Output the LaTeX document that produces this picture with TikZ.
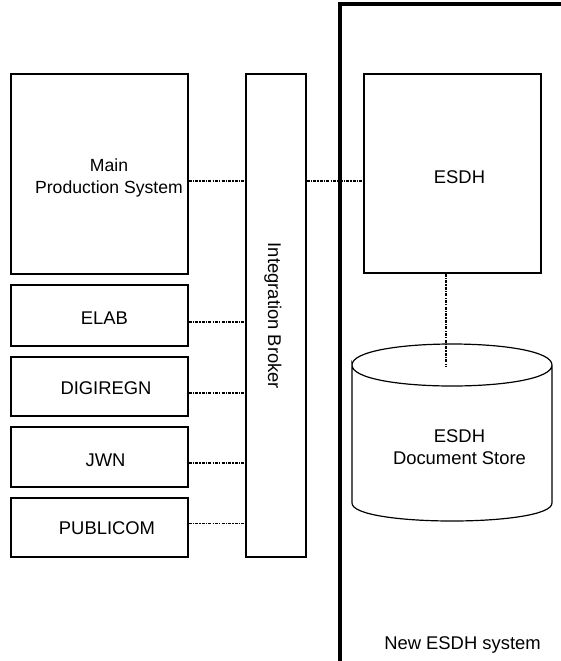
\documentclass[tikz,border=0pt]{standalone}
\usepackage{fontspec}
\setmainfont{Liberation Sans}
\begin{document}
\begin{tikzpicture}[x=0.5pt,y=-0.5pt,
  box/.style={draw, line width=0.6pt, inner sep=0pt},
  conn/.style={line width=0.65pt, dash pattern=on 1.5pt off 0.6pt on 0.6pt off 0.6pt},
  lbl/.style={inner sep=0pt, align=center, font=\fontsize{9.2}{11}\selectfont}]
\useasboundingbox (0,0) rectangle (561,661);
% left systems
\node[box, minimum width=88.5pt, minimum height=100pt] (main) at (99.5,174) {};
\node[lbl, font=\fontsize{8.8}{11}\selectfont] (mainlbl) at (109,177.5) {Main\\Production System};
\node[box, minimum width=88.5pt, minimum height=30.5pt] (elab) at (99.5,315.5) {};
\node[lbl] (elablbl) at (104.5,318) {ELAB};
\node[box, minimum width=88.5pt, minimum height=29.5pt] (digi) at (99.5,386.5) {};
\node[lbl] (digilbl) at (106,388) {DIGIREGN};
\node[box, minimum width=88.5pt, minimum height=30pt] (jwn) at (99.5,457) {};
\node[lbl] (jwnlbl) at (105.5,460) {JWN};
\node[box, minimum width=88.5pt, minimum height=29.5pt] (pub) at (99.5,527.5) {};
\node[lbl] (publbl) at (107,528) {PUBLICOM};
% broker
\node[box, minimum width=30pt, minimum height=241.5pt] (broker) at (276,315.5) {};
\node[lbl, rotate=-90] (brokerlbl) at (273,316) {Integration Broker};
% new system boundary
\draw[line width=2pt] (340,661) -- (340,4) -- (561,4);
\node[lbl] (newsys) at (462.5,645) {New ESDH system};
% ESDH
\node[box, minimum width=88.5pt, minimum height=99.5pt] (esdh) at (452.5,173.5) {};
\node[lbl] (esdhlbl) at (459.5,177) {ESDH};
% cylinder
\draw[line width=0.6pt, fill=white] (352,365) .. controls (352,337) and (552,337) .. (552,365)
  .. controls (552,393) and (352,393) .. (352,365) -- (352,503)
  .. controls (352,527) and (552,527) .. (552,503) -- (552,365);
\coordinate (cyltop) at (446,367);
\node[lbl] (store) at (459.5,447) {ESDH\\Document Store};
% connectors
\draw[conn] ([yshift=-3.5pt]main.east) -- ([yshift=-3.5pt]main.east -| broker.west);
\draw[conn] ([yshift=-3.5pt]main.east -| broker.east) -- ([yshift=-3.5pt]main.east -| esdh.west);
\draw[conn] ([yshift=-3.25pt]elab.east) -- ([yshift=-3.25pt]elab.east -| broker.west);
\draw[conn] ([yshift=-3.25pt]digi.east) -- ([yshift=-3.25pt]digi.east -| broker.west);
\draw[conn] ([yshift=-3pt]jwn.east) -- ([yshift=-3pt]jwn.east -| broker.west);
\draw[conn] ([yshift=2pt]pub.east) -- ([yshift=2pt]pub.east -| broker.west);
\draw[conn] ([xshift=-3.25pt]esdh.south) -- (cyltop);
\end{tikzpicture}
\end{document}
